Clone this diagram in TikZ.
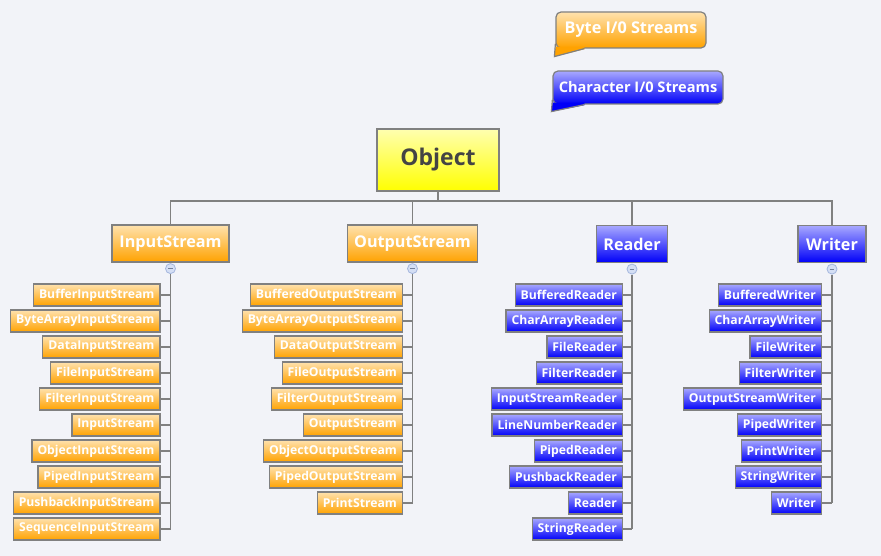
\documentclass[tikz,border=0pt]{standalone}
\usepackage{fontspec}
\setmainfont{Open Sans}
\usetikzlibrary{calc}
\definecolor{bg}{HTML}{F2F3F8}
\definecolor{edge}{HTML}{808080}
\definecolor{orT}{HTML}{FFE2AE}
\definecolor{orM}{HTML}{FFC150}
\definecolor{orB}{HTML}{FFA200}
\definecolor{blT}{HTML}{A8A8FF}
\definecolor{blM}{HTML}{4C4CFF}
\definecolor{blB}{HTML}{0000F8}
\definecolor{yeT}{HTML}{FFFFB0}
\definecolor{yeB}{HTML}{FFFF00}
\definecolor{objtext}{HTML}{444444}
\definecolor{colfill}{HTML}{D4DEF4}
\definecolor{coldraw}{HTML}{A4B6DE}
\tikzset{
  base/.style={draw=edge, line width=1.2pt, text=white, inner ysep=0pt},
  orange/.style={top color=orT, middle color=orM, bottom color=orB},
  blue/.style={top color=blT, middle color=blM, bottom color=blB},
  childbox/.style={base, anchor=east, minimum height=22pt, inner xsep=5.5pt,
    font=\bfseries\fontsize{12.2pt}{14pt}\selectfont},
  topbox/.style={base, minimum height=37pt, inner xsep=7pt,
    font=\bfseries\fontsize{16.2pt}{18pt}\selectfont},
  callbox/.style={base, rounded corners=5pt, inner xsep=4pt},
  conn/.style={draw=edge, line width=1.2pt},
  collapse/.style={circle, draw=coldraw, fill=colfill, line width=0.8pt,
    minimum size=10pt, inner sep=0pt,
    path picture={\draw[coldraw!70!black, line width=0.9pt]
      ($(path picture bounding box.west)+(2.6pt,0)$) -- ($(path picture bounding box.east)+(-2.6pt,0)$);}},
}
\begin{document}
\begin{tikzpicture}[x=1pt,y=-1pt]
\useasboundingbox (0,0) rectangle (881,556);
\fill[bg] (0,0) rectangle (881,556);

% legend callouts
\node[callbox, orange, minimum width=150pt, minimum height=36pt,
  font=\bfseries\fontsize{16.2pt}{18pt}\selectfont] (byte) at (631,30) {Byte I/0 Streams};
\fill[orB] ($(byte.south west)+(0.6,-6)$) -- ($(byte.south west)+(-1,8)$) -- ($(byte.south west)+(29,0.6)$) -- ($(byte.south west)+(29,-2)$) -- ($(byte.south west)+(0.6,-2)$) -- cycle;
\draw[conn] ($(byte.south west)+(0,-5)$) -- ($(byte.south west)+(-1,8)$) -- ($(byte.south west)+(29,0)$);

\node[callbox, blue, minimum width=170pt, minimum height=33pt,
  font=\bfseries\fontsize{14.6pt}{17pt}\selectfont] (char) at (638,87.5) {Character I/0 Streams};
\fill[blB] ($(char.south west)+(0.6,-6)$) -- ($(char.south west)+(-1,7)$) -- ($(char.south west)+(32,0.6)$) -- ($(char.south west)+(32,-2)$) -- ($(char.south west)+(0.6,-2)$) -- cycle;
\draw[conn] ($(char.south west)+(0,-5)$) -- ($(char.south west)+(-1,7)$) -- ($(char.south west)+(32,0)$);

% root
\node[base, text=objtext, top color=yeT, bottom color=yeB, minimum width=122pt, minimum height=62pt,
  font=\bfseries\fontsize{23pt}{26pt}\selectfont] (obj) at (438,160) {Object};

% top level
\node[topbox, orange, minimum width=117pt] (ins) at (170.5,243.5) {InputStream};
\node[topbox, orange, minimum width=129pt] (outs) at (412.5,243.5) {OutputStream};
\node[topbox, blue, minimum width=70pt] (rd) at (632,244) {Reader};
\node[topbox, blue, minimum width=68pt] (wr) at (832,244) {Writer};

\coordinate (bus) at (438,201);
\draw[conn] (obj.south) -- (obj.south |- bus);
\draw[conn] (ins.north) -- (ins.north |- bus) -- (wr.north |- bus) -- (wr.north);
\draw[conn] (outs.north) -- (outs.north |- bus);
\draw[conn] (rd.north) -- (rd.north |- bus);

% collapse markers
\node[collapse] (c1) at ($(ins.south)+(0,6)$) {};
\node[collapse] (c2) at ($(outs.south)+(0,6)$) {};
\node[collapse] (c3) at ($(rd.south)+(0,6)$) {};
\node[collapse] (c4) at ($(wr.south)+(0,6)$) {};

% InputStream children
\foreach \t [count=\i] in {BufferInputStream,ByteArrayInputStream,DataInputStream,FileInputStream,FilterInputStream,InputStream,ObjectInputStream,PipedInputStream,PushbackInputStream,SequenceInputStream}{
  \node[childbox, orange] (a\i) at (160.5,{269+26*\i}) {\t};
  \draw[conn] (a\i.east) -- (a\i.east -| c1.center);
}
\draw[conn] (c1.south) -- (c1.center |- a10.east);

% OutputStream children
\foreach \t [count=\i] in {BufferedOutputStream,ByteArrayOutputStream,DataOutputStream,FileOutputStream,FilterOutputStream,OutputStream,ObjectOutputStream,PipedOutputStream,PrintStream}{
  \node[childbox, orange] (b\i) at (403,{269+26*\i}) {\t};
  \draw[conn] (b\i.east) -- (b\i.east -| c2.center);
}
\draw[conn] (c2.south) -- (c2.center |- b9.east);

% Reader children
\foreach \t [count=\i] in {BufferedReader,CharArrayReader,FileReader,FilterReader,InputStreamReader,LineNumberReader,PipedReader,PushbackReader,Reader,StringReader}{
  \node[childbox, blue] (r\i) at (623,{269+26*\i}) {\t};
  \draw[conn] (r\i.east) -- (r\i.east -| c3.center);
}
\draw[conn] (c3.south) -- (c3.center |- r10.east);

% Writer children
\foreach \t [count=\i] in {BufferedWriter,CharArrayWriter,FileWriter,FilterWriter,OutputStreamWriter,PipedWriter,PrintWriter,StringWriter,Writer}{
  \node[childbox, blue] (w\i) at (822,{269+26*\i}) {\t};
  \draw[conn] (w\i.east) -- (w\i.east -| c4.center);
}
\draw[conn] (c4.south) -- (c4.center |- w9.east);
\end{tikzpicture}
\end{document}
